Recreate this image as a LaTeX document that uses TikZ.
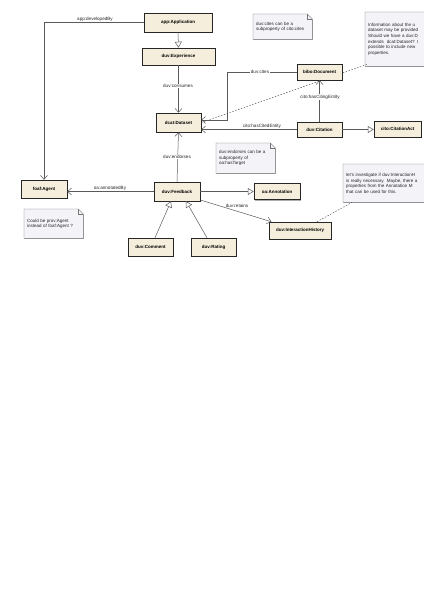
\documentclass[tikz,border=0pt]{standalone}
\usepackage{fontspec}
\setmainfont{Liberation Sans}
\usetikzlibrary{arrows.meta,shadows,backgrounds,calc}
\definecolor{boxfill}{RGB}{246,238,220}
\definecolor{notefill}{RGB}{243,243,248}
\definecolor{lineclr}{RGB}{90,90,90}
\begin{document}
\begin{tikzpicture}[x=1pt,y=-1pt,
  cls/.style={draw=black!85, line width=0.5pt, fill=boxfill, inner sep=0pt,
    font=\fontsize{4.5}{5}\selectfont\bfseries,
    drop shadow={shadow xshift=1pt, shadow yshift=-1pt, fill=black!40, opacity=0.8}},
  notetxt/.style={inner xsep=3pt, inner ysep=0pt, align=left, anchor=north west,
    font=\fontsize{4.5}{5.6}\selectfont, text=black!85},
  noteline/.style={draw=black!55, line width=0.4pt, fill=notefill},
  conn/.style={draw=lineclr, line width=0.5pt},
  assoc/.style={conn, -{Straight Barb[length=4pt,width=7pt]}},
  gen/.style={conn, -{Triangle[open,length=6pt,width=7pt,fill=white]}},
  dline/.style={draw=black!70, line width=0.45pt, dash pattern=on 1.5pt off 1.5pt},
  lbl/.style={font=\fontsize{4.6}{5}\selectfont, inner sep=0.8pt, text=black!85},
  lblw/.style={lbl, fill=white}]
\useasboundingbox (0,0) rectangle (423,599);
\clip (0,0) rectangle (423,599);

% classes
\node[cls, minimum width=68pt, minimum height=19pt] (app) at (178,22.5) {app:Application};
\node[cls, minimum width=73pt, minimum height=17pt] (exp) at (178.5,56.5) {duv:Experience};
\node[cls, minimum width=45pt, minimum height=19pt] (ds) at (178.5,122.5) {dcat:Dataset};
\node[cls, minimum width=45pt, minimum height=16pt] (doc) at (319.5,72) {bibo:Document};
\node[cls, minimum width=45pt, minimum height=15pt] (cit) at (319.5,129.5) {duv:Citation};
\node[cls, minimum width=47pt, minimum height=16pt] (act) at (397.5,129) {cito:CitationAct};
\node[cls, minimum width=46pt, minimum height=18pt] (agent) at (44,189) {foaf:Agent};
\node[cls, minimum width=46pt, minimum height=19pt] (fb) at (177,191.5) {duv:Feedback};
\node[cls, minimum width=46pt, minimum height=16pt] (ann) at (277,191.5) {oa:Annotation};
\node[cls, minimum width=45pt, minimum height=18pt] (cm) at (150.5,247) {duv:Comment};
\node[cls, minimum width=45pt, minimum height=18pt] (rt) at (213.5,247) {duv:Rating};
\node[cls, minimum width=62pt, minimum height=17pt] (ih) at (300,230.5) {duv:InteractionHistory};

% notes (text)
\node[notetxt, minimum width=59pt, minimum height=25pt, text width=53pt] (n1) at (253,14)
  {duv:cites can be a\\subproperty of cito:cites};
\node[notetxt, minimum width=65pt, minimum height=54pt, text width=62pt] (n2) at (365,12)
  {Information about the u\\dataset may be provided\\Should we have a duv:D\\extends \ dcat:Dataset? I\\possible to include new\\properties.};
\node[notetxt, minimum width=59pt, minimum height=30pt, text width=53pt] (n3) at (216,143)
  {duv:endorses can be a\\subproperty of\\oa:hasTarget};
\node[notetxt, minimum width=88pt, minimum height=38pt, text width=84pt] (n4) at (343,164)
  {let's investigate if duv:InteractionH\\is really necessary. Maybe, there a\\properties from the Annotation M\\that can be used for this.};
\node[notetxt, minimum width=59pt, minimum height=29pt, text width=53pt] (n5) at (24,209)
  {Could be prov:Agent\\instead of foaf:Agent ?};

\begin{scope}[on background layer]
  \foreach \n in {n1,n2,n3,n4,n5}{
    \fill[black!25] ([shift={(1pt,-1pt)}]\n.south west) rectangle ([shift={(1pt,-6pt)}]\n.north east);
    \draw[noteline] (\n.south west) -- (\n.south east) -- ([yshift=-5pt]\n.north east)
      -- ([xshift=-5pt]\n.north east) -- (\n.north west) -- cycle;
    \draw[draw=black!55, line width=0.4pt] ([xshift=-5pt]\n.north east) -- ([xshift=-5pt,yshift=-5pt]\n.north east) -- ([yshift=-5pt]\n.north east);
  }
  \draw[dline] (ds.east) -- ([xshift=2pt,yshift=2pt]n2.south west);
  \draw[dline] ([xshift=17pt]ih.north) -- ([xshift=9pt]n4.south west);
\end{scope}

% connectors
\draw[assoc] (app.west) -| (agent.north);
\node[lbl, anchor=south] (l1) at (95,22) {app:developedBy};
\draw[gen] (app.south) -- (exp.north);
\draw[assoc] (exp.south) -- (ds.north);
\node[lblw] (l2) at (178,86) {duv:consumes};
\coordinate (cb) at (227,120);
\draw[assoc] (doc.west) -| (cb) -- (cb -| ds.east);
\node[lblw] (l3) at (260,72) {duv:cites};
\draw[assoc] (cit.west) -- (cit.west -| ds.east);
\node[lbl, anchor=south] (l4) at (262,129) {cito:hasCitedEntity};
\draw[assoc] (cit.north) -- (doc.south);
\node[lblw] (l5) at (320,97) {cito:hasCitingEntity};
\draw[gen] (cit.east) -- (cit.east -| act.west);
\draw[assoc] (fb.north) -- (ds.south);
\node[lblw] (l6) at (177,157) {duv:endorses};
\draw[assoc] (fb.west) -- (fb.west -| agent.east);
\node[lbl, anchor=south] (l7) at (110,191) {oa:annotatedBy};
\draw[gen] (fb.east) -- (fb.east -| ann.west);
\draw[assoc] (fb.-20) -- (ih.163);
\node[lbl] (l8) at (237,206) {duv:retains};
\draw[gen] ([xshift=4.5pt]cm.north) -- ([xshift=-6pt]fb.south);
\draw[gen] ([xshift=-6.5pt]rt.north) -- ([xshift=9pt]fb.south);
\end{tikzpicture}
\end{document}
